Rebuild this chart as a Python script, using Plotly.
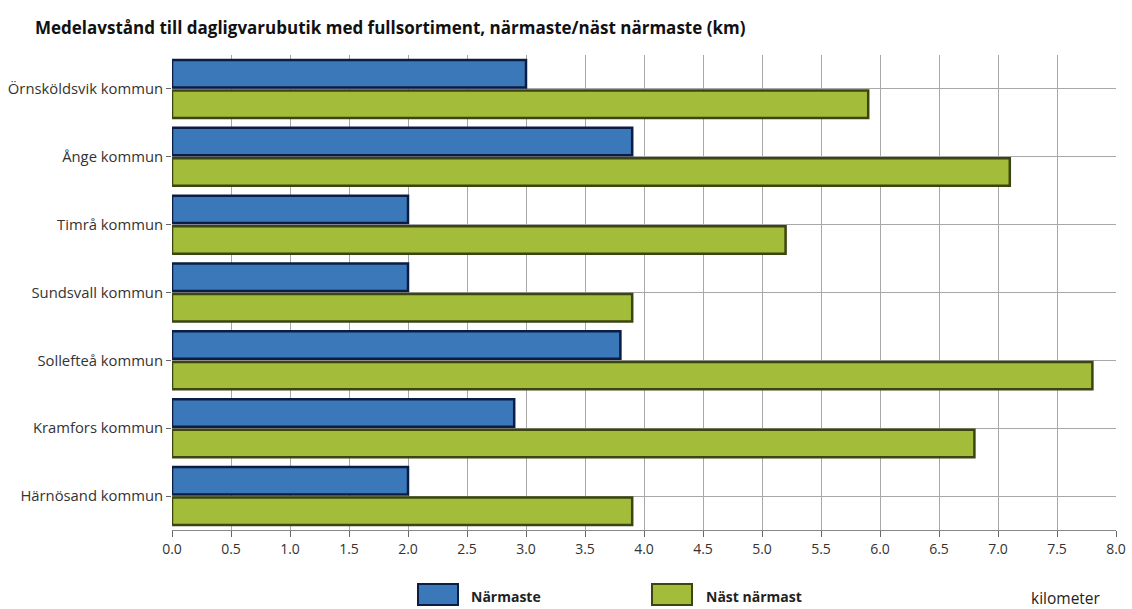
import plotly.graph_objects as go

categories = ["Örnsköldsvik kommun", "Ånge kommun", "Timrå kommun", "Sundsvall kommun",
              "Sollefteå kommun", "Kramfors kommun", "Härnösand kommun"]
narmaste = [3.0, 3.9, 2.0, 2.0, 3.8, 2.9, 2.0]
nast_narmast = [5.9, 7.1, 5.2, 3.9, 7.8, 6.8, 3.9]
x_ticks = [0, 0.5, 1, 1.5, 2, 2.5, 3, 3.5, 4, 4.5, 5, 5.5, 6, 6.5, 7, 7.5, 8]
x_ticktext = [f"{v:.1f}" for v in x_ticks]

BLUE = "#3b78b9"
BLUE_EDGE = "#0b1d45"
GREEN = "#a3bd3a"
GREEN_EDGE = "#3b4512"
FONT = "Open Sans"

L, R, T, B = 172, 16, 55, 79
PW = 1132 - L - R
PH = 609 - T - B


def px(x):
    return (x - L) / PW


def py(y):
    return (609 - B - y) / PH


fig = go.Figure()
fig.add_trace(go.Bar(y=categories, x=narmaste, orientation="h", name="Närmaste",
                     marker=dict(color=BLUE, line=dict(color=BLUE_EDGE, width=2.5)),
                     showlegend=False))
fig.add_trace(go.Bar(y=categories, x=nast_narmast, orientation="h", name="Näst närmast",
                     marker=dict(color=GREEN, line=dict(color=GREEN_EDGE, width=2.5)),
                     showlegend=False))

fig.update_layout(
    width=1132, height=609,
    margin=dict(l=L, r=R, t=T, b=B, autoexpand=False),
    paper_bgcolor="white", plot_bgcolor="white",
    barmode="group", bargap=0.10, bargroupgap=0.10,
    font=dict(family=FONT, color="#333333", size=13),
    title=dict(text="<b>Medelavstånd till dagligvarubutik med fullsortiment, närmaste/näst närmaste (km)</b>",
               x=35/1132, xanchor="left", y=1-28/609, yanchor="middle",
               font=dict(family=FONT, size=17, color="#111111")),
    xaxis=dict(range=[0, 8], tickvals=x_ticks, ticktext=x_ticktext,
               showgrid=True, gridcolor="#a8a8a8", gridwidth=1,
               showline=True, linecolor="#888888", linewidth=1,
               ticks="outside", ticklen=6, tickcolor="#666666", automargin=False,
               tickfont=dict(size=14, color="#333333"), zeroline=False),
    yaxis=dict(autorange="reversed", showgrid=True, gridcolor="#a8a8a8", gridwidth=1,
               ticks="outside", ticklen=5, tickcolor="#666666", automargin=False,
               tickfont=dict(size=14.8, color="#333333"), showline=False),
    shapes=[
        dict(type="rect", xref="paper", yref="paper",
             x0=px(418), x1=px(458), y0=py(605), y1=py(584),
             fillcolor=BLUE, line=dict(color=BLUE_EDGE, width=2)),
        dict(type="rect", xref="paper", yref="paper",
             x0=px(652), x1=px(692), y0=py(605), y1=py(584),
             fillcolor=GREEN, line=dict(color=GREEN_EDGE, width=2)),
    ],
    annotations=[
        dict(text="<b>Närmaste</b>", xref="paper", yref="paper",
             x=px(469), y=py(596), xanchor="left", yanchor="middle",
             showarrow=False, font=dict(size=14, color="#222222")),
        dict(text="<b>Näst närmast</b>", xref="paper", yref="paper",
             x=px(704), y=py(596), xanchor="left", yanchor="middle",
             showarrow=False, font=dict(size=14, color="#222222")),
        dict(text="kilometer", xref="paper", yref="paper",
             x=px(1029), y=py(598), xanchor="left", yanchor="middle",
             showarrow=False, font=dict(size=15.5, color="#222222")),
    ],
)

fig.write_html("out.html")
